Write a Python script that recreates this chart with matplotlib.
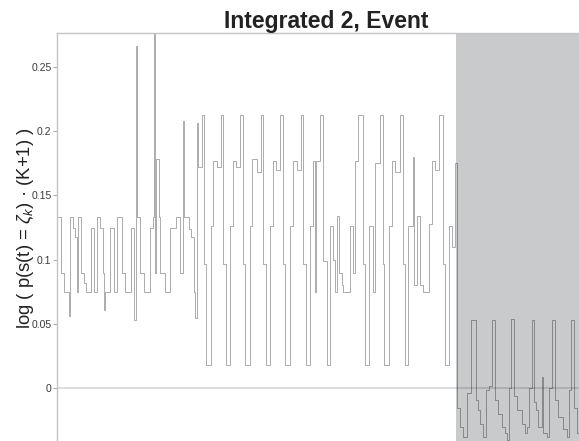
import numpy as np
import matplotlib
matplotlib.use('Agg')
from matplotlib import pyplot as plt

plt.rcParams['font.family'] = ['Liberation Sans', 'DejaVu Sans']
plt.rcParams['mathtext.fontset'] = 'custom'
plt.rcParams['mathtext.rm'] = 'Liberation Sans'
plt.rcParams['mathtext.it'] = 'Liberation Sans:italic'

# step change points (time) and levels
# before the event: irregular low states
pre_t = [57, 61, 63.5, 68.5, 70, 73, 75, 77, 78, 81, 84, 86, 91.3, 93.7, 97,
         100.3, 103, 104, 105.3, 110.3, 114.3, 117, 122, 125.3, 131, 133.7,
         136, 137.2, 140.3, 144.3, 150.3, 152.7, 154.2, 155, 156.3, 158.7,
         160.3, 165.3, 170.3, 176.3, 180.3, 182.7, 183.7, 188.7, 191, 193.7,
         195.3]
pre_v = [0.133, 0.09, 0.075, 0.056, 0.133, 0.125, 0.118, 0.075, 0.133, 0.09,
         0.082, 0.075, 0.125, 0.075, 0.133, 0.125, 0.09, 0.061, 0.075, 0.125,
         0.075, 0.133, 0.09, 0.075, 0.125, 0.053, 0.266, 0.133, 0.09, 0.075,
         0.125, 0.133, 0.30, 0.09, 0.178, 0.133, 0.09, 0.075, 0.125, 0.133,
         0.09, 0.208, 0.133, 0.124, 0.118, 0.075, 0.055]

# integrated, regular cycling
mid_t = [197.3, 198.3, 201.7, 204, 206, 210.7, 213.3, 217, 220.5, 223.3, 226,
         230, 232.5, 236, 240, 242.7, 245, 249.7, 252, 257, 260.5, 263, 265.5,
         270, 272.5, 276, 280, 282.7, 285, 290, 292.5, 297, 300.5, 303, 305.5,
         310, 312.5, 314.5, 315.5, 320, 323, 326.7, 330, 332.7, 334.5, 336.7,
         339.3, 341.7, 343, 350, 353.3, 355, 358.3, 362.7, 365, 369, 373,
         374.5, 380, 382.7, 384.3, 389.3, 391.7, 395, 400, 402.7, 405, 408,
         413, 414, 416.7, 420, 423.3, 429, 431.7, 435, 439.3, 442.7, 445, 449,
         452, 455]
mid_v = [0.206, 0.172, 0.2125, 0.097, 0.018, 0.126, 0.177, 0.172, 0.2125,
         0.097, 0.018, 0.126, 0.177, 0.172, 0.2125, 0.097, 0.018, 0.126, 0.178,
         0.168, 0.2125, 0.097, 0.018, 0.126, 0.177, 0.17, 0.2125, 0.097, 0.018,
         0.126, 0.177, 0.17, 0.2125, 0.097, 0.018, 0.126, 0.177, 0.075, 0.177,
         0.2125, 0.099, 0.018, 0.126, 0.1, 0.075, 0.134, 0.09, 0.08, 0.075,
         0.126, 0.09, 0.177, 0.2125, 0.097, 0.018, 0.126, 0.075, 0.175, 0.2125,
         0.097, 0.018, 0.126, 0.177, 0.168, 0.2125, 0.097, 0.018, 0.126, 0.18,
         0.08, 0.134, 0.08, 0.075, 0.128, 0.177, 0.17, 0.2125, 0.097, 0.018,
         0.126, 0.11, 0.175]

# event window
evt_t = [457, 459.5, 462.5, 466.7, 471, 476, 478.3, 480, 483.3, 486, 489.3,
         491.7, 495, 498.3, 501.7, 505, 507.3, 509.3, 511, 514.3, 516.7, 521.7,
         525, 527.3, 529.3, 531.7, 534.3, 536, 538.3, 541.5, 542.5, 546.7,
         549.3, 551.7, 555, 558.3, 563.3, 566.7, 568.7, 570.7, 574, 576.7, 580,
         585, 590, 595]
evt_v = [-0.015, -0.03, -0.038, -0.004, 0.053, -0.009, -0.017, -0.028, -0.038,
         -0.001, 0.002, 0.053, -0.009, -0.02, -0.03, -0.035, -0.04, 0.0, 0.054,
         -0.006, -0.017, -0.028, -0.035, -0.03, 0.0, 0.053, -0.011, -0.017,
         -0.03, 0.009, -0.035, -0.038, 0.0, 0.053, -0.009, -0.022, -0.032,
         -0.038, -0.001, 0.053, -0.015, -0.035, -0.04, -0.002, 0.053, 0.053]

event_start = 456
yticks = [0, 0.05, 0.1, 0.15, 0.2, 0.25]
ytick_labels = ['0', '0.05', '0.1', '0.15', '0.2', '0.25']

t = np.array(pre_t + mid_t + evt_t)
v = np.array(pre_v + mid_v + evt_v)

fig = plt.figure(figsize=(5.79, 4.41), dpi=100)
ax = fig.add_axes([57 / 579, 0.0, 538 / 579, 408 / 441])

ax.axvspan(event_start, 700, color='#c9cacc', lw=0, zorder=0)
ax.axhline(0, color='k', alpha=0.15, lw=1.3, zorder=1)
ax.step(t, v, where='post', color='k', alpha=0.38, lw=0.6, zorder=2)

ax.set_xlim(57, 595)
ax.set_ylim(-0.041, 0.2763)
ax.set_xticks([])
ax.set_yticks(yticks)
ax.set_yticklabels(ytick_labels)
ax.tick_params(axis='y', length=3, width=0.8, color='#aaaaaa', pad=1,
               labelsize=7.5, labelcolor='#3a3a3a')

for side in ['right', 'bottom']:
    ax.spines[side].set_visible(False)
for side in ['left', 'top']:
    ax.spines[side].set_color('#c4c4c4')
    ax.spines[side].set_linewidth(1.0)

ax.set_title('Integrated 2, Event', fontsize=16.5, fontweight='bold',
             color='#222222', pad=3)
ax.set_ylabel('log ( p(s(t) = $\\zeta_k$) · (K+1) )', fontsize=13.3,
              color='#222222')
ax.yaxis.set_label_coords(-0.039, 0.522)

plt.savefig('out.png', dpi=100)
